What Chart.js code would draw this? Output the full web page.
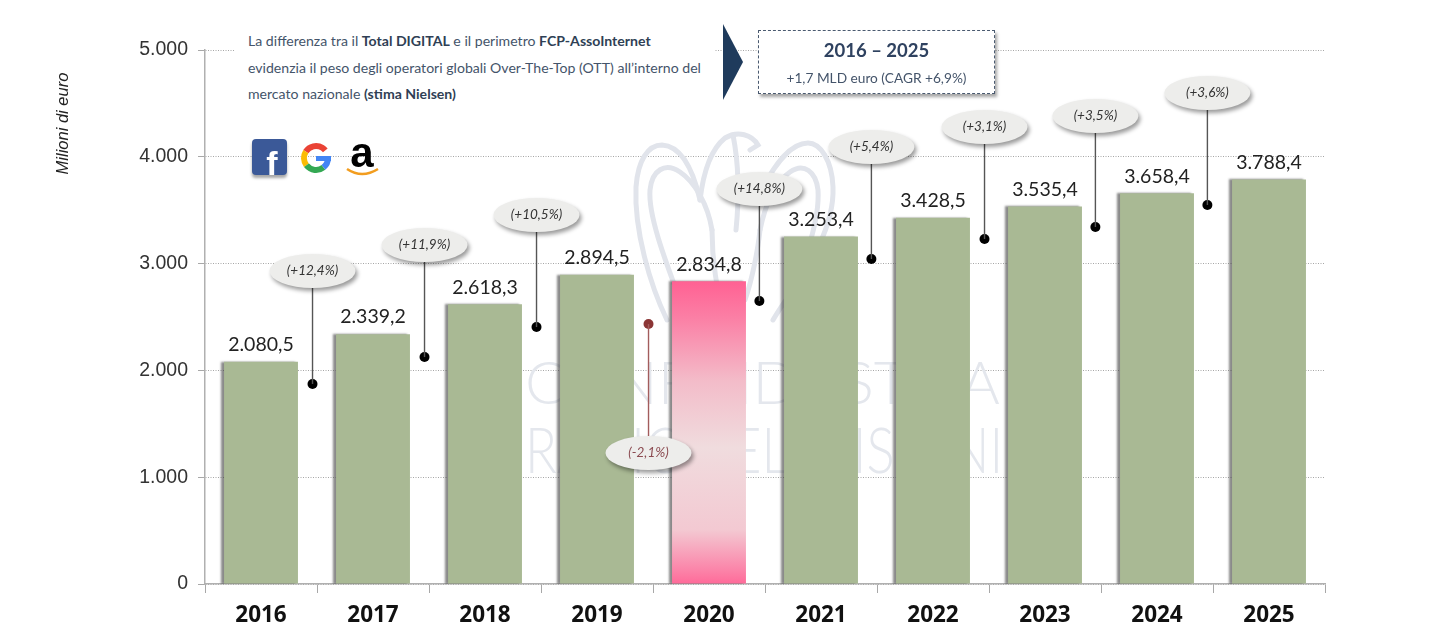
<!DOCTYPE html>
<html>
<head>
<meta charset="utf-8">
<title>Total Digital 2016-2025</title>
<script src="https://cdn.jsdelivr.net/npm/chart.js@4"></script>
<style>
    html, body { margin: 0; padding: 0; background: #fff; overflow: hidden; }
    #wrap { position: relative; width: 1448px; height: 634px; }
    #note {
        position: absolute; left: 235px; top: 28px; width: 480px; height: 80px;
        padding-left: 13px; box-sizing: border-box; background: #fff;
        font: 14.1px/26.5px Lato, sans-serif; color: #44546a; white-space: nowrap;
    }
    #note b { color: #2f3f55; }
    #box {
        position: absolute; left: 758px; top: 30px; width: 237px; height: 64px;
        box-sizing: border-box; background: #fff; border: 1.5px dashed #4a5a70;
        box-shadow: 2px 3px 3px rgba(0, 0, 0, .35);
        text-align: center; font-family: Lato, sans-serif; color: #44546a;
    }
    #box .a { font-size: 18.5px; font-weight: 700; color: #2f4260; line-height: 20px; margin-top: 9px; }
    #box .b { font-size: 13.7px; line-height: 16px; margin-top: 10px; }
    #arrow { position: absolute; left: 723px; top: 24px; }
</style>
</head>
<body>
<div id="wrap">
    <canvas id="bar_chart" width="1448" height="634"></canvas>
    <div id="note">
        La differenza tra il <b>Total DIGITAL</b> e il perimetro <b>FCP-AssoInternet</b><br>
        evidenzia il peso degli operatori globali Over-The-Top (OTT) all’interno del<br>
        mercato nazionale <b>(stima Nielsen)</b>
    </div>
    <svg id="arrow" width="22" height="78"><polygon points="0,0 20,38 0,76" fill="#1f3b5c"/></svg>
    <div id="box">
        <div class="a">2016 – 2025</div>
        <div class="b">+1,7 MLD euro (CAGR +6,9%)</div>
    </div>
</div>
<script>
var years = ["2016", "2017", "2018", "2019", "2020", "2021", "2022", "2023", "2024", "2025"];
var totals = [2080.5, 2339.2, 2618.3, 2894.5, 2834.8, 3253.4, 3428.5, 3535.4, 3658.4, 3788.4];
var yTicks = [0, 1000, 2000, 3000, 4000, 5000];

var growthLabels = ["(+12,4%)", "(+11,9%)", "(+10,5%)", "(-2,1%)", "(+14,8%)", "(+5,4%)", "(+3,1%)", "(+3,5%)", "(+3,6%)"];
var growthX = [0.96, 1.96, 2.96, 3.96, 4.95, 5.95, 6.96, 7.95, 8.95];
var growthDot = [1873, 2125, 2406, 2434, 2650, 3043, 3230, 3343, 3549];
var growthBubble = [2931, 3174, 3455, 1227, 3699, 4092, 4279, 4382, 4597];

function fmtIt(v, dec) {
    var parts = v.toFixed(dec).split(".");
    parts[0] = parts[0].replace(/\B(?=(\d{3})+$)/g, ".");
    return parts.join(",");
}

function barColor(c) {
    if (c.dataIndex !== 4 || !c.chart.chartArea) return "#a9b994";
    var area = c.chart.chartArea;
    var top = c.chart.scales.y.getPixelForValue(totals[4]);
    var g = c.chart.ctx.createLinearGradient(0, top, 0, area.bottom);
    g.addColorStop(0, "#ff6193");
    g.addColorStop(0.12, "#fb7fa5");
    g.addColorStop(0.33, "#f3bcc9");
    g.addColorStop(0.55, "#f0dcde");
    g.addColorStop(0.82, "#f3c9d2");
    g.addColorStop(0.95, "#fb86aa");
    g.addColorStop(1, "#ff6a99");
    return g;
}

// watermark + logos sit under the bars
var backdrop = {
    id: "backdrop",
    beforeDatasetsDraw: function (chart) {
        var ctx = chart.ctx;
        ctx.save();
        ctx.strokeStyle = "#e1e4eb";
        ctx.lineWidth = 5;
        ctx.lineCap = "round";
        var eagle = [
            "M667 320 C650 285 634 230 636 187 C638 160 648 145 662 145 C680 146 692 165 700 200",
            "M680 300 C665 260 648 215 650 190 C652 170 665 162 680 172 C695 182 708 205 712 230",
            "M700 200 C703 175 710 150 725 138 C738 130 752 135 758 145 L750 150",
            "M773 320 C790 290 835 240 833 187 C832 160 820 143 808 143 C790 143 775 165 763 187",
            "M790 300 C805 260 820 220 818 190 C816 172 804 162 790 172 C775 182 765 205 760 230",
            "M712 230 C712 250 715 300 730 320",
            "M760 230 C758 250 752 280 745 300",
            "M733 135 C738 160 740 190 736 230"
        ];
        eagle.forEach(function (d) { ctx.stroke(new Path2D(d)); });
        ctx.fillStyle = "#e4e7ed";
        ctx.textAlign = "left";
        ctx.textBaseline = "alphabetic";
        ctx.font = "300 60px Lato, sans-serif";
        ctx.fillText("CONFINDUSTRIA", 525, 404);
        ctx.translate(525, 473);
        ctx.scale(0.82, 1);
        ctx.font = "300 64px Lato, sans-serif";
        ctx.fillText("RADIO TELEVISIONI", 0, 0);
        ctx.restore();

        // facebook
        ctx.save();
        ctx.shadowColor = "rgba(0,0,0,.35)";
        ctx.shadowOffsetY = 3;
        ctx.shadowBlur = 3;
        ctx.fillStyle = "#3b5998";
        ctx.beginPath();
        ctx.roundRect(252, 139, 35, 36, 4);
        ctx.fill();
        ctx.shadowColor = "transparent";
        ctx.fillStyle = "#fff";
        ctx.font = "700 34px 'Liberation Sans', sans-serif";
        ctx.textAlign = "center";
        ctx.fillText("f", 272, 175);
        // google
        ctx.lineWidth = 6;
        ctx.lineCap = "butt";
        [["#ea4335", 3.7, 5.6], ["#fbbc05", 2.5, 3.7], ["#34a853", 0.9, 2.5], ["#4285f4", 0, 0.9]].forEach(function (s) {
            ctx.strokeStyle = s[0];
            ctx.beginPath();
            ctx.arc(316, 158, 12, s[1], s[2]);
            ctx.stroke();
        });
        ctx.fillStyle = "#4285f4";
        ctx.fillRect(316, 156, 15, 5);
        // amazon
        ctx.fillStyle = "#000";
        ctx.font = "700 42px 'Liberation Sans', sans-serif";
        ctx.fillText("a", 362, 167);
        ctx.strokeStyle = "#f29d1f";
        ctx.lineWidth = 2.5;
        ctx.beginPath();
        ctx.moveTo(347, 169);
        ctx.quadraticCurveTo(362, 179, 378, 169);
        ctx.stroke();
        ctx.restore();

        // y axis title
        ctx.save();
        ctx.translate(63, 123.5);
        ctx.rotate(-Math.PI / 2);
        ctx.fillStyle = "#222";
        ctx.font = "italic 16.5px 'Liberation Sans', sans-serif";
        ctx.textAlign = "center";
        ctx.textBaseline = "middle";
        ctx.fillText("Milioni di euro", 0, 0);
        ctx.restore();
    },
    beforeDatasetDraw: function (chart, args) {
        if (args.index !== 1) return;
        var ctx = chart.ctx;
        ctx.save();
        ctx.shadowColor = "rgba(60,60,60,.6)";
        ctx.shadowOffsetX = -3;
        ctx.shadowBlur = 2;
    },
    afterDatasetDraw: function (chart, args) {
        if (args.index !== 1) return;
        chart.ctx.restore();
    }
};

// value labels above the bars, growth bubbles between them
var callouts = {
    id: "callouts",
    afterDatasetsDraw: function (chart) {
        var ctx = chart.ctx;
        var y = chart.scales.y, x2 = chart.scales.x2, x = chart.scales.x;
        ctx.save();
        ctx.textAlign = "center";
        ctx.textBaseline = "middle";
        ctx.fillStyle = "#222";
        ctx.font = "19.5px Lato, sans-serif";
        totals.forEach(function (v, i) {
            ctx.fillText(fmtIt(v, 1), x.getPixelForValue(i), y.getPixelForValue(v) - 17);
        });
        growthLabels.forEach(function (label, i) {
            var neg = label.indexOf("-") >= 0;
            var px = x2.getPixelForValue(growthX[i]);
            var pyDot = y.getPixelForValue(growthDot[i]);
            var pyBub = y.getPixelForValue(growthBubble[i]);
            ctx.strokeStyle = neg ? "#a35c5c" : "#555";
            ctx.lineWidth = 1.4;
            ctx.beginPath();
            ctx.moveTo(px, pyDot);
            ctx.lineTo(px, pyBub);
            ctx.stroke();
            ctx.save();
            ctx.shadowColor = "rgba(0,0,0,.4)";
            ctx.shadowOffsetX = 2;
            ctx.shadowOffsetY = 3;
            ctx.shadowBlur = 4;
            ctx.fillStyle = "#ededeb";
            ctx.beginPath();
            ctx.ellipse(px, pyBub, 43, 17, 0, 0, Math.PI * 2);
            ctx.fill();
            ctx.restore();
            ctx.fillStyle = neg ? "#8b4a50" : "#333";
            ctx.font = "italic 13.5px Lato, sans-serif";
            ctx.fillText(label, px, pyBub);
        });
        ctx.restore();
    }
};

new Chart(document.getElementById("bar_chart").getContext("2d"), {
    type: "bar",
    data: {
        labels: years,
        datasets: [{
            type: "line",
            label: "Variazione",
            xAxisID: "x2",
            order: 0,
            showLine: false,
            data: growthX.map(function (gx, i) { return { x: gx, y: growthDot[i] }; }),
            pointRadius: 5,
            pointHoverRadius: 5,
            pointBorderWidth: 0,
            pointBackgroundColor: growthLabels.map(function (l) { return l.indexOf("-") >= 0 ? "#8b3535" : "#000"; })
        }, {
            label: "Total Digital",
            order: 1,
            data: totals,
            backgroundColor: barColor,
            grouped: false,
            barPercentage: 0.66,
            categoryPercentage: 1
        }]
    },
    options: {
        responsive: false,
        animation: false,
        layout: { padding: { top: 50, right: 123, left: 0, bottom: 0 } },
        plugins: { legend: { display: false }, tooltip: { enabled: false } },
        scales: {
            x: {
                afterFit: function (s) { s.height = 50; },
                grid: { drawOnChartArea: false, tickLength: 9, tickColor: "#a8a8a8" },
                border: { color: "#b0b0b0", width: 1.5 },
                ticks: { color: "#111", font: { family: "'Open Sans'", size: 22.5, weight: "700" }, padding: 9 }
            },
            x2: { type: "linear", min: 0, max: 10, display: false, offset: false, grid: { offset: false } },
            y: {
                min: 0,
                max: 5000,
                afterFit: function (s) { s.width = 205; },
                afterBuildTicks: function (s) { s.ticks = yTicks.map(function (v) { return { value: v }; }); },
                grid: { color: "#a6a6a6", lineWidth: 1, tickLength: 7, tickColor: "#a8a8a8", tickBorderDash: [] },
                border: { color: "#b0b0b0", width: 1.5, dash: [1, 1.5] },
                ticks: {
                    color: "#333",
                    padding: 10,
                    font: { family: "'Liberation Sans'", size: 19.5 },
                    callback: function (v) { return fmtIt(v, 0); }
                }
            }
        }
    },
    plugins: [backdrop, callouts]
});
</script>
</body>
</html>
